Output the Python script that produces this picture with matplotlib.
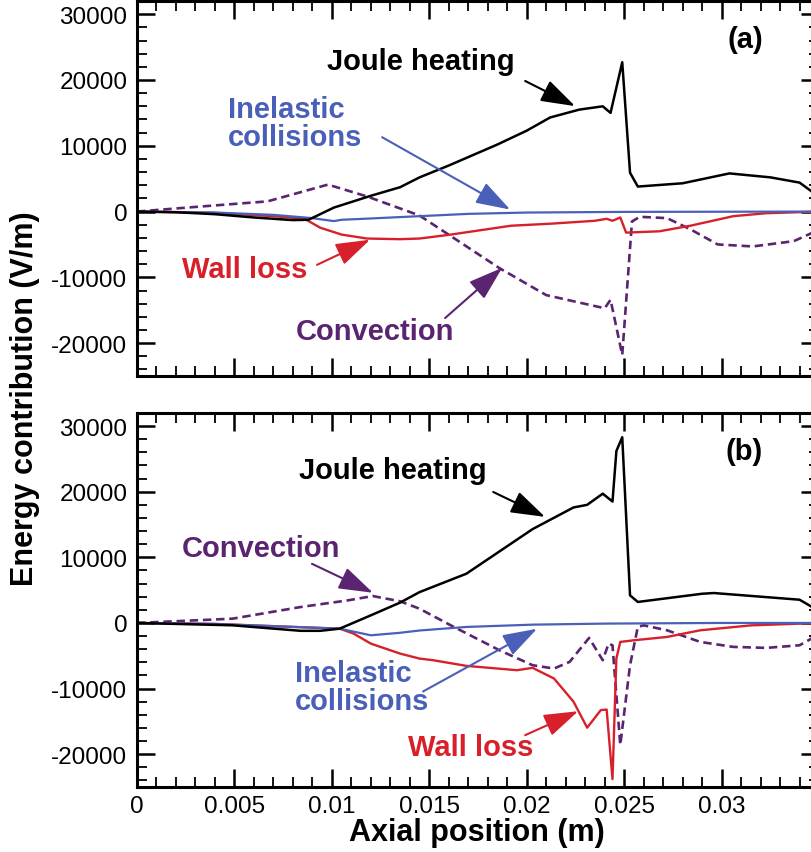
import matplotlib
matplotlib.use("Agg")
import matplotlib.pyplot as plt
from matplotlib.ticker import FixedLocator, MultipleLocator

plt.rcParams['font.family'] = ['Liberation Sans', 'DejaVu Sans']

BLACK = 'black'
BLUE = '#4a5fb8'
RED = '#d7202a'
PURPLE = '#5a2470'

# ---- panel (a) ----
x_joule_a = [0, 0.002, 0.004, 0.006, 0.008, 0.0088, 0.0101, 0.012, 0.0135, 0.0145, 0.016,
             0.0185, 0.020, 0.0212, 0.0227, 0.0239, 0.0243, 0.0249, 0.0253, 0.0257, 0.028,
             0.0304, 0.0325, 0.034, 0.0346, 0.035]
joule_a = [0, -100, -400, -900, -1300, -1250, 600, 2400, 3700, 5200, 7000,
           10200, 12300, 14300, 15500, 16000, 15000, 22700, 5900, 3800, 4300,
           5800, 5200, 4400, 3100, 1800]

x_inel_a = [0, 0.004, 0.007, 0.009, 0.0101, 0.0105, 0.012, 0.0145, 0.017, 0.02, 0.025, 0.035]
inel_a = [0, -150, -500, -1000, -1450, -1250, -1050, -700, -350, -150, -50, 0]

x_wall_a = [0, 0.004, 0.007, 0.0086, 0.0094, 0.0105, 0.0118, 0.0135, 0.0145, 0.0161, 0.0192,
            0.0212, 0.0235, 0.0241, 0.0244, 0.0248, 0.0251, 0.0268, 0.0284, 0.0306, 0.0323, 0.035]
wall_a = [0, -200, -700, -1100, -2450, -3500, -4100, -4200, -4100, -3500, -2150,
          -1850, -1400, -1100, -1400, -900, -3200, -3000, -2150, -700, -250, 0]

x_conv_a = [0, 0.0032, 0.0067, 0.0098, 0.0118, 0.0145, 0.0165, 0.0186, 0.021, 0.024, 0.0243,
            0.0249, 0.0254, 0.0258, 0.0272, 0.0284, 0.0298, 0.0316, 0.0337, 0.0346, 0.035]
conv_a = [0, 750, 1550, 4100, 2300, -600, -4500, -8600, -12700, -14700, -13400,
          -21800, -1500, -800, -1000, -2700, -5000, -5300, -4500, -3300, -2500]

# ---- panel (b) ----
x_joule_b = [0, 0.0049, 0.0084, 0.0094, 0.0104, 0.012, 0.0135, 0.0145, 0.0169, 0.0203, 0.0224,
             0.0231, 0.0239, 0.0244, 0.0246, 0.0249, 0.0253, 0.0257, 0.029, 0.0296, 0.034,
             0.0346, 0.035]
joule_b = [0, -360, -1200, -1200, -870, 1160, 3100, 4700, 7500, 14300, 17600,
           18000, 19700, 18500, 26200, 28300, 4200, 3200, 4450, 4560, 3540,
           2500, 1500]

x_inel_b = [0, 0.004, 0.008, 0.0104, 0.012, 0.0135, 0.0145, 0.0169, 0.0203, 0.024, 0.03, 0.035]
inel_b = [0, -150, -600, -870, -1880, -1500, -1150, -610, -260, -100, 0, 0]

x_wall_b = [0, 0.004, 0.008, 0.0104, 0.0111, 0.012, 0.0135, 0.0145, 0.0152, 0.0169, 0.0195,
            0.0203, 0.0214, 0.0224, 0.0231, 0.0238, 0.0241, 0.0244, 0.0246, 0.0248, 0.0255,
            0.0272, 0.0289, 0.0315, 0.035]
wall_b = [0, -150, -600, -870, -1600, -3150, -4670, -5430, -5680, -6540, -7200,
          -6840, -8470, -12000, -15960, -13280, -13200, -23800, -5400, -2890, -2640,
          -2130, -1120, -370, 0]

x_conv_b = [0, 0.0049, 0.0084, 0.0108, 0.0121, 0.0135, 0.0145, 0.0161, 0.0186, 0.0203, 0.0214,
            0.0222, 0.0232, 0.0239, 0.0242, 0.0244, 0.0248, 0.0253, 0.0257, 0.026, 0.0272,
            0.0289, 0.0306, 0.0323, 0.034, 0.0346, 0.035]
conv_b = [0, 650, 2430, 3430, 4100, 3300, 2170, -360, -4160, -6440, -6950,
          -5930, -2280, -5680, -3150, -3400, -18600, -6440, -600, -360, -1120,
          -2890, -3650, -3800, -3400, -2400, -1500]

x_major = [0, 0.005, 0.01, 0.015, 0.02, 0.025, 0.03]
x_labels = ['0', '0.005', '0.01', '0.015', '0.02', '0.025', '0.03']
y_major = [-20000, -10000, 0, 10000, 20000, 30000]

fig = plt.figure(figsize=(8.12, 8.53), dpi=100)
ax_a = fig.add_axes([0.1687, 0.558, 0.840, 0.4396])
ax_b = fig.add_axes([0.1687, 0.0762, 0.840, 0.4385])


def style_axes(ax, show_xlabels):
    ax.set_xlim(0, 0.035)
    ax.set_ylim(-25000, 32000)
    ax.xaxis.set_major_locator(FixedLocator(x_major))
    ax.xaxis.set_minor_locator(MultipleLocator(0.001))
    ax.yaxis.set_major_locator(FixedLocator(y_major))
    ax.yaxis.set_minor_locator(MultipleLocator(2000))
    ax.set_yticklabels([str(v) for v in y_major])
    if show_xlabels:
        ax.set_xticklabels(x_labels)
    else:
        ax.set_xticklabels([])
    ax.tick_params(which='both', direction='in', top=True, right=True,
                   labelsize=17.5)
    ax.tick_params(which='major', length=13, width=1.8)
    ax.tick_params(which='minor', length=7, width=1.3)
    ax.tick_params(axis='y', pad=7)
    ax.tick_params(axis='x', pad=6)
    for s in ax.spines.values():
        s.set_linewidth(2.2)


def draw_curves(ax, xj, j, xi, i, xw, w, xc, c):
    ax.plot(xc, c, color=PURPLE, lw=1.9, dashes=(3.2, 1.8))
    ax.plot(xw, w, color=RED, lw=1.7)
    ax.plot(xi, i, color=BLUE, lw=1.6)
    ax.plot(xj, j, color=BLACK, lw=1.8)


def label(ax, text, pos, color, ha='left'):
    ax.text(pos[0], pos[1], text, color=color, fontsize=21, fontweight='bold',
            ha=ha, va='center', multialignment='left', linespacing=1.0)


def arrow(ax, start, end, color):
    ax.annotate('', xy=end, xytext=start,
                arrowprops=dict(arrowstyle='-|>,head_length=0.85,head_width=0.28',
                                mutation_scale=25, color=color, lw=1.5,
                                shrinkA=0, shrinkB=0))


style_axes(ax_a, False)
draw_curves(ax_a, x_joule_a, joule_a, x_inel_a, inel_a, x_wall_a, wall_a, x_conv_a, conv_a)
label(ax_a, 'Joule heating', (0.01458, 22900), BLACK, ha='center')
arrow(ax_a, (0.01992, 19850), (0.02248, 16030), BLACK)
label(ax_a, 'Inelastic\ncollisions', (0.00467, 13435), BLUE)
arrow(ax_a, (0.01258, 11300), (0.01915, 300), BLUE)
label(ax_a, 'Wall loss', (0.00231, -8700), RED)
arrow(ax_a, (0.00924, -8100), (0.01196, -4280), RED)
label(ax_a, 'Convection', (0.00816, -18170), PURPLE)
arrow(ax_a, (0.01581, -16190), (0.01874, -8550), PURPLE)
label(ax_a, '(a)', (0.03121, 26260), BLACK, ha='center')

style_axes(ax_b, True)
draw_curves(ax_b, x_joule_b, joule_b, x_inel_b, inel_b, x_wall_b, wall_b, x_conv_b, conv_b)
label(ax_b, 'Joule heating', (0.01314, 23300), BLACK, ha='center')
arrow(ax_b, (0.01828, 19960), (0.02094, 16160), BLACK)
label(ax_b, 'Convection', (0.00231, 11450), PURPLE)
arrow(ax_b, (0.00898, 9010), (0.01211, 4600), PURPLE)
label(ax_b, 'Inelastic\ncollisions', (0.00811, -9790), BLUE)
arrow(ax_b, (0.01468, -10440), (0.02053, -880), BLUE)
label(ax_b, 'Wall loss', (0.01391, -18900), RED)
arrow(ax_b, (0.01992, -17100), (0.02264, -13450), RED)
label(ax_b, '(b)', (0.03116, 26190), BLACK, ha='center')

fig.text(0.031, 1 - 399 / 853, 'Energy contribution (V/m)', rotation=90,
         fontsize=22, fontweight='bold', ha='center', va='center')
fig.text(476.5 / 812, 1 - 833 / 853, 'Axial position (m)',
         fontsize=22, fontweight='bold', ha='center', va='center')

fig.savefig('out.png', dpi=100)
